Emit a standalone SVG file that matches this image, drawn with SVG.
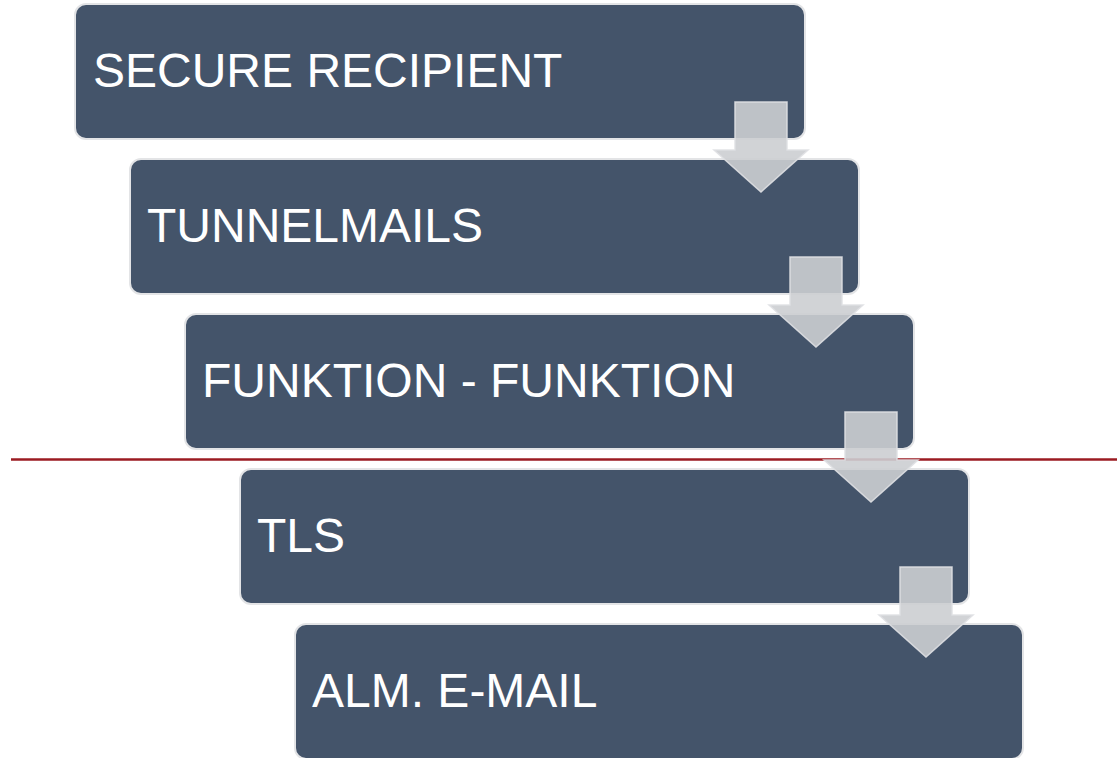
<svg xmlns="http://www.w3.org/2000/svg" width="1117" height="758" viewBox="0 0 1117 758">
<style>
.box{fill:#44546a;stroke:#e3e4e6;stroke-width:2}
.lbl{font-family:"Liberation Sans",Arial,sans-serif;font-size:48px;fill:#ffffff}
.arr{fill:#ccced2;fill-opacity:0.9;stroke:#dfe0e3;stroke-width:1.5;stroke-opacity:0.9}
</style>
<rect width="1117" height="758" fill="#ffffff"/>
<g id="node1"><rect class="box" x="75" y="4" width="730" height="135" rx="11"/><text class="lbl" x="93" y="87">SECURE RECIPIENT</text></g>
<g id="node2"><rect class="box" x="130" y="159" width="729" height="135" rx="11"/><text class="lbl" x="147" y="242">TUNNELMAILS</text></g>
<g id="node3"><rect class="box" x="185" y="314" width="729" height="135" rx="11"/><text class="lbl" x="202" y="397">FUNKTION - FUNKTION</text></g>
<line x1="11" y1="459.5" x2="1117" y2="459.5" stroke="#9b1b22" stroke-width="2.5"/>
<g id="node4"><rect class="box" x="240" y="469" width="729" height="135" rx="11"/><text class="lbl" x="257" y="552">TLS</text></g>
<g id="node5"><rect class="box" x="295" y="624" width="728" height="135" rx="11"/><text class="lbl" x="312" y="707">ALM. E-MAIL</text></g>
<g id="connectors">
<path class="arr" d="M735,102 H787 V150 H808 L761,192 L714,150 H735 Z"/>
<path class="arr" d="M790,257 H842 V305 H863 L816,347 L769,305 H790 Z"/>
<path class="arr" d="M845,412 H897 V460 H918 L871,502 L824,460 H845 Z"/>
<path class="arr" d="M900,567 H952 V615 H973 L926,657 L879,615 H900 Z"/>
</g>
</svg>
